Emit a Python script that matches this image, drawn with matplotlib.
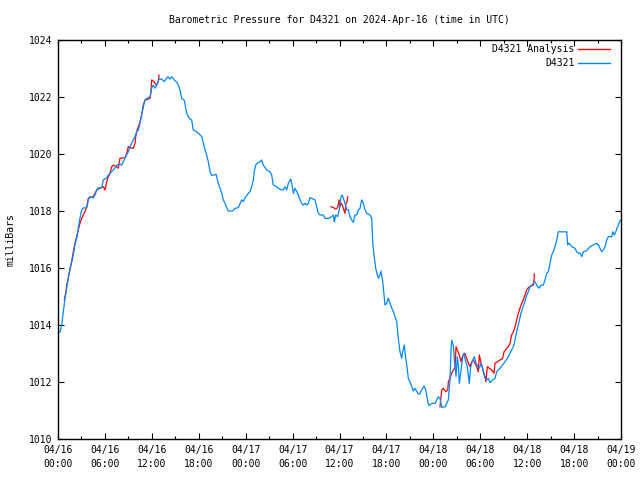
import matplotlib
matplotlib.use("Agg")
import matplotlib.pyplot as plt
from matplotlib.lines import Line2D

# hours since 2024-04-16 00:00 UTC and pressure in mbar
obs_hours = [0.00, 0.26, 0.47, 0.68, 0.90, 1.11, 1.32, 1.53, 1.75, 1.96, 2.17, 2.39, 2.60, 2.81, 3.03, 3.24, 3.67, 3.88, 4.09, 4.51,
             4.73, 4.95, 5.15, 5.59, 5.79, 6.23, 6.43, 6.87, 7.29, 7.51, 7.93, 8.15, 8.35, 8.57, 8.99, 9.21, 9.43, 9.85, 10.06, 10.27,
             10.49, 10.70, 10.91, 11.13, 11.34, 11.77, 11.98, 12.19, 12.41, 12.62, 12.92, 13.26, 13.59, 14.03, 14.32, 14.54, 14.87, 15.18, 15.39, 15.60,
             15.82, 16.15, 16.33, 16.54, 16.88, 17.10, 17.30, 17.74, 17.94, 18.38, 18.58, 18.80, 19.02, 19.22, 19.44, 19.66, 19.86, 20.21, 20.50, 20.72,
             20.94, 21.14, 21.36, 21.57, 21.78, 22.29, 22.64, 23.06, 23.49, 23.70, 23.91, 24.34, 24.55, 24.77, 24.98, 25.10, 25.28, 25.54, 25.83, 26.05,
             26.26, 26.69, 27.11, 27.33, 27.53, 27.97, 28.17, 28.61, 28.81, 29.03, 29.25, 29.45, 29.76, 29.89, 30.09, 30.31, 30.53, 30.73, 30.95, 31.17,
             31.37, 31.59, 31.81, 32.01, 32.23, 32.65, 32.87, 33.08, 33.29, 33.51, 33.93, 34.15, 34.57, 35.00, 35.21, 35.34, 35.51, 35.77, 35.98, 36.19,
             36.36, 36.49, 36.70, 36.92, 37.13, 37.34, 37.56, 37.77, 37.98, 38.20, 38.41, 38.62, 38.84, 39.05, 39.26, 39.48, 39.90, 40.12, 40.25, 40.41,
             40.63, 40.84, 40.96, 41.18, 41.31, 41.53, 41.69, 41.82, 42.04, 42.24, 42.46, 42.68, 42.88, 43.10, 43.32, 43.52, 43.74, 43.96, 44.08, 44.29,
             44.47, 44.60, 44.80, 45.02, 45.24, 45.44, 45.66, 45.87, 46.08, 46.30, 46.51, 46.81, 47.03, 47.29, 47.45, 47.79, 48.21, 48.43, 48.64, 48.85,
             49.07, 49.49, 49.71, 49.92, 50.13, 50.26, 50.35, 50.55, 50.77, 50.90, 51.07, 51.19, 51.32, 51.54, 51.76, 51.92, 52.09, 52.35, 52.60, 52.78,
             53.04, 53.24, 53.46, 53.68, 53.88, 54.10, 54.31, 54.61, 54.83, 55.03, 55.25, 55.59, 55.89, 56.10, 56.53, 56.87, 57.17, 57.59, 58.02, 58.23,
             58.45, 58.70, 58.96, 59.21, 59.47, 59.72, 59.94, 60.15, 60.36, 60.58, 60.79, 61.00, 61.22, 61.52, 61.77, 62.07, 62.28, 62.50, 62.71, 62.92,
             63.14, 63.35, 63.56, 63.78, 63.98, 65.06, 65.18, 65.35, 65.70, 66.12, 66.34, 66.54, 66.76, 66.98, 67.18, 67.62, 68.04, 68.46, 68.90, 69.10,
             69.32, 69.53, 69.74, 69.96, 70.17, 70.38, 70.82, 70.95, 71.15, 71.33, 71.58, 71.75, 71.92]
obs_mbar = [1013.72, 1013.76, 1014.00, 1014.47, 1014.95, 1015.30, 1015.65, 1016.00, 1016.22, 1016.46, 1016.81, 1017.05, 1017.40, 1017.75, 1018.04, 1018.11, 1018.11, 1018.39, 1018.50, 1018.46,
            1018.56, 1018.74, 1018.81, 1018.82, 1019.09, 1019.16, 1019.26, 1019.38, 1019.51, 1019.61, 1019.65, 1019.61, 1019.73, 1019.86, 1020.08, 1020.26, 1020.39, 1020.61, 1020.78, 1020.84,
            1021.09, 1021.37, 1021.66, 1021.89, 1021.95, 1022.01, 1022.31, 1022.42, 1022.31, 1022.42, 1022.63, 1022.63, 1022.54, 1022.71, 1022.63, 1022.71, 1022.60, 1022.52, 1022.42, 1022.25,
            1021.95, 1021.89, 1021.60, 1021.37, 1021.23, 1021.19, 1020.84, 1020.78, 1020.73, 1020.61, 1020.38, 1020.14, 1019.96, 1019.73, 1019.38, 1019.24, 1019.26, 1019.29, 1018.97, 1018.80,
            1018.62, 1018.39, 1018.27, 1018.12, 1018.00, 1018.00, 1018.09, 1018.12, 1018.39, 1018.33, 1018.45, 1018.62, 1018.68, 1018.85, 1019.09, 1019.38, 1019.61, 1019.69, 1019.73, 1019.79,
            1019.61, 1019.44, 1019.38, 1019.26, 1018.91, 1018.85, 1018.80, 1018.74, 1018.74, 1018.85, 1018.74, 1018.97, 1019.12, 1018.97, 1018.62, 1018.80, 1018.68, 1018.56, 1018.39, 1018.27,
            1018.21, 1018.27, 1018.21, 1018.27, 1018.47, 1018.42, 1018.39, 1018.15, 1017.92, 1017.86, 1017.86, 1017.74, 1017.74, 1017.80, 1017.86, 1017.62, 1017.86, 1017.80, 1018.04, 1018.50,
            1018.56, 1018.45, 1018.27, 1018.04, 1018.04, 1017.80, 1017.68, 1017.60, 1017.86, 1017.86, 1018.04, 1018.09, 1018.39, 1018.27, 1018.04, 1017.92, 1017.86, 1017.74, 1016.92, 1016.46,
            1015.99, 1015.75, 1015.64, 1015.75, 1015.89, 1015.52, 1015.05, 1014.70, 1014.76, 1014.94, 1014.76, 1014.59, 1014.47, 1014.29, 1014.12, 1013.53, 1013.06, 1012.83, 1013.06, 1013.30,
            1012.83, 1012.60, 1012.13, 1012.01, 1011.84, 1011.68, 1011.78, 1011.68, 1011.57, 1011.60, 1011.72, 1011.86, 1011.72, 1011.31, 1011.17, 1011.25, 1011.25, 1011.37, 1011.48, 1011.43,
            1011.11, 1011.13, 1011.25, 1011.37, 1012.07, 1013.12, 1013.47, 1013.30, 1012.54, 1012.19, 1012.89, 1012.60, 1011.95, 1012.42, 1012.89, 1013.01, 1012.77, 1012.54, 1011.95, 1012.54,
            1012.77, 1012.89, 1012.66, 1012.54, 1012.48, 1012.66, 1012.48, 1012.13, 1012.07, 1012.13, 1011.98, 1012.07, 1012.13, 1012.36, 1012.48, 1012.60, 1012.71, 1012.89, 1013.12, 1013.24,
            1013.47, 1013.82, 1014.11, 1014.42, 1014.63, 1014.84, 1015.05, 1015.17, 1015.34, 1015.40, 1015.46, 1015.52, 1015.40, 1015.29, 1015.40, 1015.40, 1015.58, 1015.81, 1015.87, 1016.16,
            1016.46, 1016.57, 1016.75, 1016.98, 1017.27, 1017.27, 1016.81, 1016.87, 1016.75, 1016.69, 1016.57, 1016.52, 1016.52, 1016.40, 1016.57, 1016.61, 1016.75, 1016.81, 1016.87, 1016.81,
            1016.69, 1016.57, 1016.63, 1016.75, 1016.98, 1017.10, 1017.10, 1017.27, 1017.16, 1017.27, 1017.45, 1017.57, 1017.68]

# analysis series (three separate runs)
ana1_hours = [0.81, 1.02, 1.11, 1.32, 1.53, 1.75, 1.96, 2.17, 2.39, 2.60, 2.81, 3.03, 3.24, 3.45, 3.67, 3.88, 4.51, 4.73, 4.95, 5.37,
              5.79, 6.01, 6.23, 6.43, 6.65, 6.87, 7.07, 7.51, 7.71, 7.93, 8.57, 8.79, 8.99, 9.21, 9.63, 9.85, 9.94, 10.06, 10.27, 10.49,
              10.70, 10.91, 11.13, 11.77, 11.89, 11.98, 12.19, 12.41, 12.62, 12.83, 12.92]
ana1_mbar = [1014.88, 1015.17, 1015.40, 1015.64, 1015.93, 1016.22, 1016.57, 1016.87, 1017.10, 1017.33, 1017.57, 1017.74, 1017.86, 1017.98, 1018.15, 1018.45, 1018.50, 1018.62, 1018.74, 1018.80,
             1018.85, 1018.74, 1019.03, 1019.20, 1019.32, 1019.55, 1019.61, 1019.55, 1019.50, 1019.85, 1019.87, 1020.02, 1020.26, 1020.22, 1020.20, 1020.38, 1020.61, 1020.78, 1020.96, 1021.13,
             1021.37, 1021.72, 1021.89, 1021.95, 1022.19, 1022.60, 1022.56, 1022.48, 1022.42, 1022.54, 1022.77]
ana2_hours = [34.91, 35.21, 35.51, 35.77, 35.94, 36.06, 36.19, 36.36, 36.49, 36.70, 36.79, 36.96, 37.05]
ana2_mbar = [1018.15, 1018.12, 1018.07, 1018.12, 1018.39, 1018.15, 1018.27, 1018.21, 1018.09, 1017.92, 1018.21, 1018.33, 1018.50]
ana3_hours = [48.85, 48.98, 49.07, 49.28, 49.58, 49.84, 49.92, 50.13, 50.35, 50.55, 50.77, 50.90, 51.07, 51.32, 51.54, 51.63, 51.83, 52.05, 52.27, 52.47,
              52.69, 52.91, 53.11, 53.33, 53.55, 53.75, 53.88, 54.06, 54.19, 54.39, 54.61, 54.73, 54.90, 55.16, 55.47, 55.76, 55.89, 56.18, 56.53, 56.87,
              57.04, 57.38, 57.59, 57.81, 58.02, 58.23, 58.45, 58.66, 58.87, 59.08, 59.30, 59.51, 59.72, 59.94, 60.15, 60.49, 60.79, 60.88, 60.92]
ana3_mbar = [1011.13, 1011.48, 1011.72, 1011.78, 1011.66, 1011.72, 1012.01, 1012.13, 1012.31, 1012.42, 1012.48, 1013.24, 1013.12, 1012.95, 1012.71, 1012.83, 1012.95, 1013.01, 1012.83, 1012.66,
             1012.54, 1012.71, 1012.77, 1012.66, 1012.54, 1012.36, 1012.95, 1012.71, 1012.60, 1012.36, 1012.19, 1012.01, 1012.54, 1012.48, 1012.42, 1012.31, 1012.66, 1012.71, 1012.77, 1012.83,
             1013.06, 1013.18, 1013.24, 1013.36, 1013.65, 1013.76, 1013.94, 1014.18, 1014.41, 1014.59, 1014.76, 1014.88, 1015.05, 1015.23, 1015.31, 1015.37, 1015.40, 1015.58, 1015.79]

tick_hours = [0, 6, 12, 18, 24, 30, 36, 42, 48, 54, 60, 66, 72]
tick_labels = ["04/16\n00:00", "04/16\n06:00", "04/16\n12:00", "04/16\n18:00",
               "04/17\n00:00", "04/17\n06:00", "04/17\n12:00", "04/17\n18:00",
               "04/18\n00:00", "04/18\n06:00", "04/18\n12:00", "04/18\n18:00",
               "04/19\n00:00"]
y_ticks = [1010, 1012, 1014, 1016, 1018, 1020, 1022, 1024]

RED = "#ff0000"
BLUE = "#0088ff"
FONT = "DejaVu Sans Mono"
FS = 7
LW = 0.9

plt.rcParams['font.family'] = FONT
plt.rcParams['font.size'] = FS

fig = plt.figure(figsize=(6.4, 4.8), dpi=100)
ax = fig.add_axes([58/640, 1-439/480, (621-58)/640, (439-40)/480])

for hrs, vals in [(ana1_hours, ana1_mbar), (ana2_hours, ana2_mbar), (ana3_hours, ana3_mbar)]:
    ax.plot(hrs, vals, color=RED, lw=LW)
ax.plot(obs_hours, obs_mbar, color=BLUE, lw=LW)

ax.set_xlim(0, 72)
ax.set_ylim(1010, 1024)
ax.set_xticks(tick_hours)
ax.set_xticklabels(tick_labels, linespacing=1.5)
ax.set_xticks([h + 3 for h in tick_hours[:-1]], minor=True)
ax.set_yticks(y_ticks)
ax.tick_params(axis='both', which='major', direction='in', length=4.5, width=0.8,
               top=True, right=True, labelsize=FS, pad=4)
ax.tick_params(axis='x', which='minor', direction='in', length=2.5, width=0.8, top=True)
for s in ax.spines.values():
    s.set_linewidth(1.0)

ax.set_ylabel("milliBars", fontsize=FS, labelpad=10)
ax.set_title("Barometric Pressure for D4321 on 2024-Apr-16 (time in UTC)", fontsize=FS, pad=12)

# legend (text right-aligned, sample line on the right)
ax.text(0.917, 0.9775, "D4321 Analysis", transform=ax.transAxes, ha='right', va='center', fontsize=FS)
ax.add_line(Line2D([0.923, 0.98], [0.9775, 0.9775], transform=ax.transAxes, color=RED, lw=1.0))
ax.text(0.917, 0.9425, "D4321", transform=ax.transAxes, ha='right', va='center', fontsize=FS)
ax.add_line(Line2D([0.923, 0.98], [0.9425, 0.9425], transform=ax.transAxes, color=BLUE, lw=1.0))

fig.savefig("out.png", dpi=100)
